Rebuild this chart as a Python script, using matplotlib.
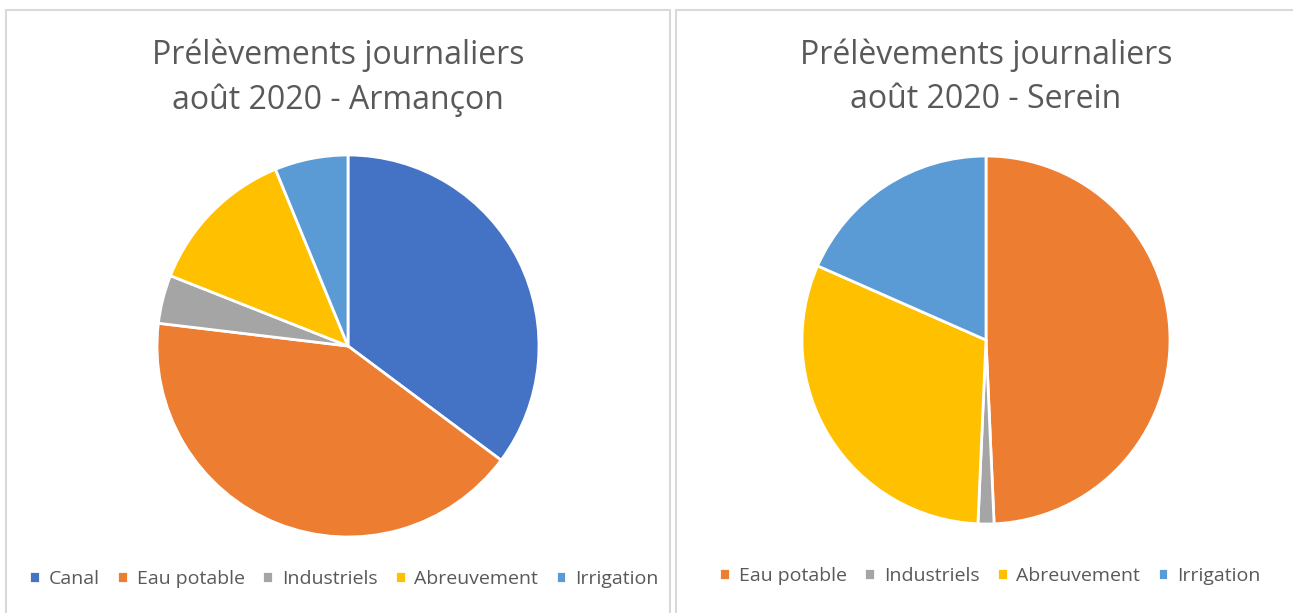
import matplotlib.pyplot as plt
from matplotlib.patches import Rectangle

plt.rcParams['font.family'] = ['Open Sans', 'DejaVu Sans']

# données (en %)
cats_arm = ['Canal', 'Eau potable', 'Industriels', 'Abreuvement', 'Irrigation']
vals_arm = [35.2, 41.7, 4.1, 12.8, 6.2]
cats_ser = ['Eau potable', 'Industriels', 'Abreuvement', 'Irrigation']
vals_ser = [49.3, 1.4, 30.9, 18.4]

colors = {'Canal': '#4472C4', 'Eau potable': '#ED7D31', 'Industriels': '#A5A5A5',
          'Abreuvement': '#FFC000', 'Irrigation': '#5B9BD5'}

W, H = 1293, 613
fig = plt.figure(figsize=(W / 100, H / 100), dpi=100)
txt = '#595959'

# cadres des deux graphiques
for x0, x1 in [(6, 670), (676, 1300)]:
    fig.patches.append(Rectangle((x0 / W, -0.1), (x1 - x0) / W, (H - 10) / H + 0.1,
                                 transform=fig.transFigure, fill=False,
                                 edgecolor='#D9D9D9', lw=1.5))


def draw(cats, vals, cx, cy, r, title, tx, legx, legy):
    ax = fig.add_axes([(cx - r) / W, (H - cy - r) / H, 2 * r / W, 2 * r / H])
    wedges, _ = ax.pie(vals, colors=[colors[c] for c in cats], startangle=90,
                       counterclock=False, radius=1,
                       wedgeprops=dict(edgecolor='white', linewidth=2, clip_on=False))
    ax.set_xlim(-1, 1)
    ax.set_ylim(-1, 1)
    ax.set_aspect('equal')
    fig.text(tx / W, 1 - 55 / H, title[0], ha='center', va='center', fontsize=23, color=txt)
    fig.text(tx / W, 1 - 100 / H, title[1], ha='center', va='center', fontsize=23, color=txt)
    fig.legend(wedges, cats, loc='center', bbox_to_anchor=(legx / W, 1 - legy / H),
               ncol=len(cats), frameon=False, fontsize=14, labelcolor=txt,
               handlelength=0.55, handleheight=0.55, handletextpad=0.45,
               columnspacing=0.9)


draw(cats_arm, vals_arm, 348, 346, 191, ['Prélèvements journaliers', 'août 2020 - Armançon'],
     338, 344, 579)
draw(cats_ser, vals_ser, 986, 340, 184, ['Prélèvements journaliers', 'août 2020 - Serein'],
     986, 990, 576)

fig.savefig('out.png', dpi=100)
